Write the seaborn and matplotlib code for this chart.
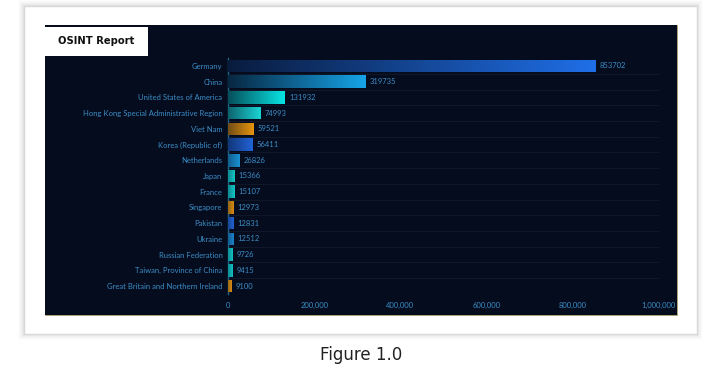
import numpy as np
import pandas as pd
import matplotlib
matplotlib.use("Agg")
import matplotlib.pyplot as plt
import matplotlib.colors as mcolors
from matplotlib.patches import Rectangle
from matplotlib.lines import Line2D
import seaborn as sns

# ---------------- data ----------------
countries = [
    "Germany", "China", "United States of America",
    "Hong Kong Special Administrative Region", "Viet Nam",
    "Korea (Republic of)", "Netherlands", "Japan", "France", "Singapore",
    "Pakistan", "Ukraine", "Russian Federation", "Taiwan, Province of China",
    "Great Britain and Northern Ireland",
]
values = [853702, 319735, 131932, 74993, 59521, 56411, 26826, 15366, 15107,
          12973, 12831, 12512, 9726, 9415, 9100]
bar_colors = ["#1f6fe8", "#16a4e8", "#08e4e4", "#1ad6d6", "#e8940e",
              "#2163d8", "#1a92d4", "#12c6c6", "#12c6c6", "#d88c12",
              "#2162d2", "#1a82c8", "#12c2c2", "#12c2c2", "#d88c12"]
x_ticks = [0, 200000, 400000, 600000, 800000, 1000000]
x_tick_labels = ["0", "200,000", "400,000", "600,000", "800,000", "1,000,000"]
title_text = "OSINT Report"
caption_text = "Figure 1.0"

# ---------------- style ----------------
sns.set_theme(style="white")
plt.rcParams['font.family'] = ['Lato', 'DejaVu Sans']

BG = "#050c1d"
LABEL = "#3b8cc6"

W, H = 721, 369
fig = plt.figure(figsize=(W / 100, H / 100), dpi=100)
fig.patch.set_facecolor("white")


def fx(px):
    return px / W


def fy(py):
    return 1 - py / H


# soft shadow + card
for k, a in zip(range(6, 0, -1), [0.02, 0.03, 0.04, 0.05, 0.06, 0.08]):
    fig.patches.append(Rectangle((fx(24 - k), fy(334 + k)), (673 + 2 * k) / W, (328 + 2 * k) / H,
                                 transform=fig.transFigure, facecolor="#9a9a9a", alpha=a,
                                 edgecolor="none", zorder=0))
fig.patches.append(Rectangle((fx(24), fy(334)), 673 / W, 328 / H, transform=fig.transFigure,
                             facecolor="white", edgecolor="#d8d8d8", lw=1.0, zorder=1))
# dark panel
fig.patches.append(Rectangle((fx(45), fy(315)), (677 - 45) / W, (315 - 25) / H,
                             transform=fig.transFigure, facecolor=BG, edgecolor="none", zorder=2))
fig.lines.append(Line2D([fx(45), fx(677), fx(677)], [fy(315), fy(315), fy(25)],
                        transform=fig.transFigure, color="#9c9060", lw=0.6, zorder=3))

# title box
fig.patches.append(Rectangle((fx(45), fy(56)), (148 - 45) / W, (56 - 27) / H,
                             transform=fig.transFigure, facecolor="white", edgecolor="none", zorder=4))
fig.text(fx(58), fy(41.5), title_text, fontsize=7.2, fontweight="bold", color="#111111",
         ha="left", va="center", zorder=5, family=["DejaVu Sans"])

# caption
fig.text(fx(361), fy(355), caption_text, fontsize=12, color="#222222",
         ha="center", va="center", family=["DejaVu Sans"])

# ---------------- chart ----------------
top_px, bot_px = 58.1, 293.9
ax_w_px = 659 - 228
ax = fig.add_axes([fx(228), fy(bot_px), ax_w_px / W, (bot_px - top_px) / H])
ax.patch.set_alpha(0)
ax.set_zorder(6)

df = pd.DataFrame({"country": countries, "value": values})
sns.barplot(data=df, x="value", y="country", orient="h", ax=ax, width=0.8,
            color="#000000", saturation=1, zorder=3)

xmax = 1000000
bg_rgb = np.array(mcolors.to_rgb(BG))
for patch, c in zip(ax.patches, bar_colors):
    x0, y0 = patch.get_x(), patch.get_y()
    w, h = patch.get_width(), patch.get_height()
    c_rgb = np.array(mcolors.to_rgb(c))
    w_px = w / xmax * ax_w_px
    s = 0.16 + 0.6 * np.exp(-w_px / 40.0)
    t = np.linspace(0, 1, 256)[:, None]
    start = bg_rgb * (1 - s) + c_rgb * s
    grad = start * (1 - t) + c_rgb * t
    img = grad[None, :, :]
    patch.set_facecolor("none")
    patch.set_edgecolor("none")
    im = ax.imshow(img, extent=[x0, x0 + w, y0 + h, y0], aspect="auto",
                   interpolation="bilinear", zorder=3)
    im.set_clip_path(patch)

ax.bar_label(ax.containers[0], labels=[str(v) for v in values], padding=3,
             color=LABEL, fontsize=5.5)

for i in range(len(countries)):
    ax.axhline(i + 0.5, color="#121a2c", lw=0.6, zorder=1)

ax.set_xlim(0, xmax)
ax.set_ylim(len(countries) - 0.5, -0.5)
ax.set_xticks(x_ticks)
ax.set_xticklabels(x_tick_labels)
ax.set_xlabel("")
ax.set_ylabel("")
ax.tick_params(axis="y", length=0, pad=4, colors=LABEL, labelsize=5.5)
ax.tick_params(axis="x", length=0, pad=6, colors=LABEL, labelsize=5.5)
for s_ in ["top", "right", "bottom"]:
    ax.spines[s_].set_visible(False)
ax.spines["left"].set_color("#1e6585")
ax.spines["left"].set_linewidth(1.0)
ax.grid(False)

fig.savefig("out.png", dpi=100)
